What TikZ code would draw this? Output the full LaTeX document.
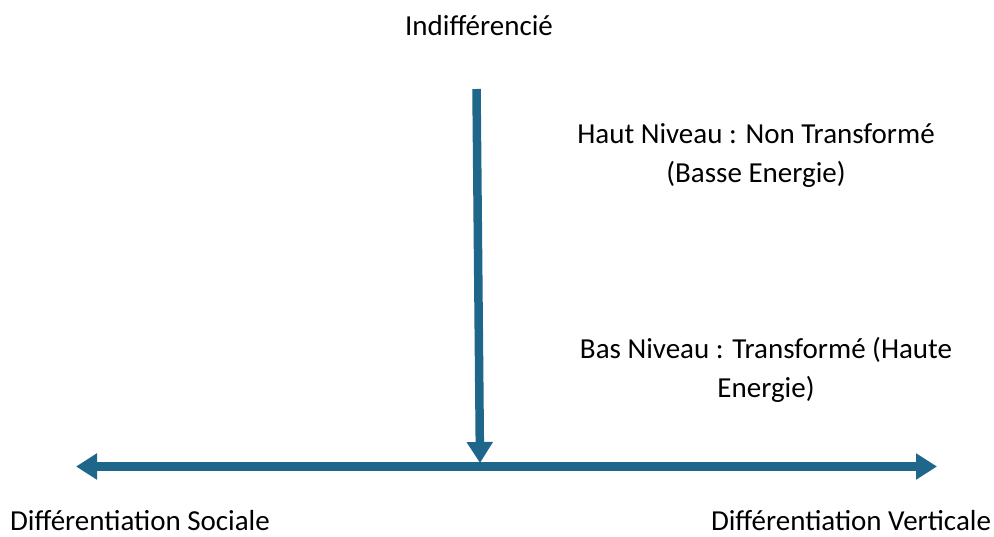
\documentclass[tikz,border=0pt]{standalone}
\usepackage{fontspec}
\setmainfont{Carlito}
\usetikzlibrary{arrows.meta}
\definecolor{axisblue}{RGB}{30,102,138}
\begin{document}
\begin{tikzpicture}[x=1pt,y=-1pt,
  lbl/.style={font=\fontsize{29}{39}\selectfont, inner sep=0pt, anchor=base, align=center, text=black},
  axis/.style={draw=axisblue, line width=8.5pt, -{Triangle[length=21pt,width=25pt]}}]
\useasboundingbox (0,0) rectangle (994,536);
\coordinate (top) at (476.5,89);
\coordinate (mid) at (480,463);
\coordinate (left) at (76,466.5);
\coordinate (right) at (937,466.5);
\coordinate (centre) at (480,466.5);
\draw[axis] (centre) -- (left);
\draw[axis] (centre) -- (right);
\draw[axis] (top) -- (mid);
\node[lbl] (indiff) at (479,35) {Indifférencié};
\node[lbl] (haut) at (756,182) {Haut Niveau : Non Transformé\\(Basse Energie)};
\node[lbl] (bas) at (766,397) {Bas Niveau : Transformé (Haute\\Energie)};
\node[lbl, text depth=0pt] (sociale) at (140,530) {Différentiation Sociale};
\node[lbl, text depth=0pt] (verticale) at (851,530) {Différentiation Verticale};
\end{tikzpicture}
\end{document}
